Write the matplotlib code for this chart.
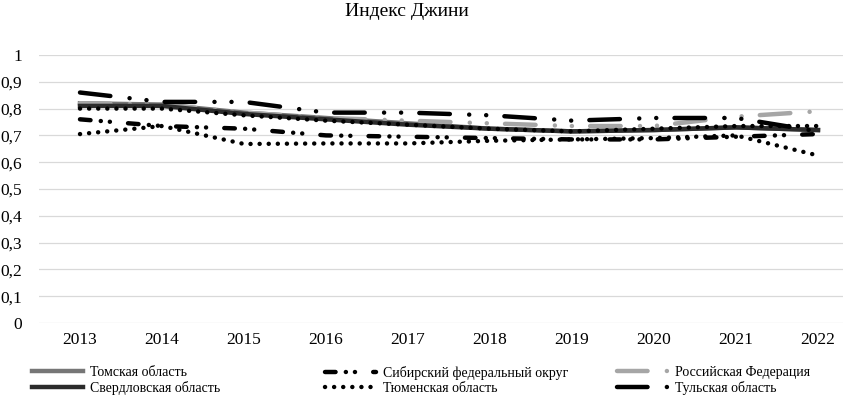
import matplotlib
matplotlib.use("Agg")
import matplotlib.pyplot as plt

plt.rcParams['font.family'] = ['Liberation Serif', 'DejaVu Serif']
plt.rcParams['lines.scale_dashes'] = False

years = ['2013', '2014', '2015', '2016', '2017', '2018', '2019', '2020', '2021', '2022']

# значения индекса Джини
s1 = [0.820, 0.815, 0.785, 0.765, 0.745, 0.725, 0.715, 0.720, 0.730, 0.720]
s2 = [0.760, 0.735, 0.725, 0.700, 0.695, 0.690, 0.685, 0.685, 0.695, 0.705]
s3 = [0.820, 0.815, 0.785, 0.765, 0.755, 0.745, 0.735, 0.735, 0.770, 0.790]
s4 = [0.810, 0.810, 0.780, 0.760, 0.740, 0.725, 0.715, 0.720, 0.730, 0.720]
s5 = [0.705, 0.735, 0.668, 0.670, 0.670, 0.680, 0.685, 0.690, 0.700, 0.625]
s6 = [0.860, 0.825, 0.825, 0.785, 0.785, 0.775, 0.755, 0.765, 0.765, 0.715]
s7 = [0.800, 0.800, 0.775, 0.755, 0.740, 0.725, 0.715, 0.725, 0.735, 0.735]

names = ['Томская область', 'Сибирский федеральный округ', 'Российская Федерация',
         'Свердловская область', 'Тюменская область', 'Тульская область',
         'Челябинская область']

yticks = [i / 10 for i in range(11)]
ytick_labels = ['0' if v == 0 else ('1' if v == 1 else ('%.1f' % v).replace('.', ',')) for v in yticks]

fig = plt.figure(figsize=(8.43, 3.96), dpi=100)
ax = fig.add_axes([39 / 843, 73 / 396, 820 / 843, 268 / 396])

x = list(range(len(years)))
lw = 3.2
dot = (0, (0.05, 6.5))
lg_dash_dot_dot = (0, (22, 13.9, 0.05, 12.2, 0.05, 13.1))
dash_dot_dot = (0, (7.6, 7.4, 0.05, 6.5, 0.05, 13.1))

lines = []
lines += ax.plot(x, s1, color='#767676', lw=lw, label=names[0])
lines += ax.plot(x, s2, color='black', lw=lw, ls=dash_dot_dot, dash_capstyle='round', label=names[1])
lines += ax.plot(x, s3, color='#a6a6a6', lw=lw, ls=lg_dash_dot_dot, dash_capstyle='round', label=names[2])
lines += ax.plot(x, s4, color='#2b2b2b', lw=lw, label=names[3])
lines += ax.plot(x, s5, color='black', lw=lw, ls=dot, dash_capstyle='round', label=names[4])
lines += ax.plot(x, s6, color='black', lw=lw, ls=lg_dash_dot_dot, dash_capstyle='round', label=names[5])
lines += ax.plot(x, s7, color='black', lw=lw, ls=dot, dash_capstyle='round', label=names[6])

ax.set_xlim(-0.5, 9.5)
ax.set_ylim(0, 1)
ax.set_xticks(x)
ax.set_xticklabels(years, fontsize=12.5)
ax.set_yticks(yticks)
ax.set_yticklabels(ytick_labels, fontsize=12.5)
ax.tick_params(axis='both', length=0)
ax.tick_params(axis='x', pad=6.5)
ax.tick_params(axis='y', pad=12)
ax.grid(axis='y', color='#d9d9d9', lw=0.9)
ax.set_axisbelow(True)
for sp in ax.spines.values():
    sp.set_visible(False)

fig.text(407 / 843, 1 - 3 / 396, 'Индекс Джини', ha='center', va='top', fontsize=14)

# легенда: три колонки по две строки
cols = [[0, 3], [1, 4], [2, 5]]
xs = [32, 325, 617]
for col, xp in zip(cols, xs):
    fig.legend([lines[i] for i in col], [names[i] for i in col],
               loc='upper left', bbox_to_anchor=(xp / 843, 1 - 366 / 396),
               frameon=False, fontsize=10, handlelength=3.67, handletextpad=0.5,
               borderpad=0, borderaxespad=0, labelspacing=0.15)

fig.savefig('out.png', dpi=100)
